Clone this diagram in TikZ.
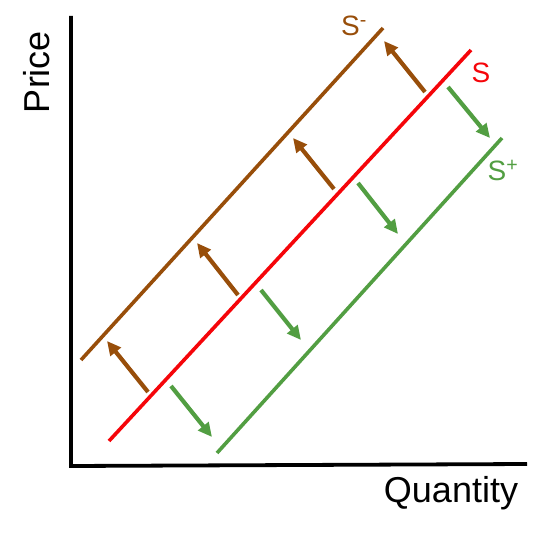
\documentclass[tikz,border=0pt]{standalone}
\usepackage{fontspec}
\setmainfont{Liberation Sans}
\usetikzlibrary{arrows.meta}
\definecolor{brownc}{RGB}{152,78,10}
\definecolor{redc}{RGB}{245,5,10}
\definecolor{greenc}{RGB}{82,158,66}
\tikzset{
  axisline/.style={line width=3.8pt, black},
  curveline/.style={line width=3.6pt},
  shiftarrow/.style={line width=4.2pt, -{Triangle[length=14pt,width=13pt]}},
  lbl/.style={inner sep=0pt, font=\fontsize{28}{30}\selectfont},
  axlbl/.style={inner sep=0pt, font=\fontsize{36}{40}\selectfont}
}
\begin{document}
\begin{tikzpicture}[x=1pt,y=-1pt]
\useasboundingbox (0,0) rectangle (546,537);
% axes
\coordinate (ytop) at (71,16);
\coordinate (orig) at (71,466);
\coordinate (xend) at (527,464);
\draw[axisline] (ytop) -- (orig) -- (xend);
\node[axlbl, rotate=90] (price) at (37,72) {Price};
\node[axlbl] (qty) at (451,493) {Quantity};
% supply curves
\coordinate (sa) at (109,441);
\coordinate (sb) at (471,50);
\coordinate (sma) at (81,360);
\coordinate (smb) at (383,28);
\coordinate (spa) at (217,453);
\coordinate (spb) at (502,138);
\draw[curveline, redc] (sa) -- (sb);
\draw[curveline, brownc] (sma) -- (smb);
\draw[curveline, greenc] (spa) -- (spb);
\node[lbl, text=brownc] (lsm) at (354,26) {S\textsuperscript{-}};
\node[lbl, text=redc] (ls) at (481,73) {S};
\node[lbl, text=greenc] (lsp) at (503,170) {S\textsuperscript{+}};
% brown arrows
\coordinate (b1s) at (148,392); \coordinate (b1e) at (107,341);
\coordinate (b2s) at (238,295); \coordinate (b2e) at (197,243);
\coordinate (b3s) at (334,189); \coordinate (b3e) at (293,138);
\coordinate (b4s) at (425,92);  \coordinate (b4e) at (384,41);
\foreach \i in {1,2,3,4} \draw[shiftarrow, brownc] (b\i s) -- (b\i e);
% green arrows
\coordinate (g1s) at (171,386); \coordinate (g1e) at (212,437);
\coordinate (g2s) at (261,290); \coordinate (g2e) at (301,340);
\coordinate (g3s) at (358,183); \coordinate (g3e) at (398,234);
\coordinate (g4s) at (448,87);  \coordinate (g4e) at (490,138);
\foreach \i in {1,2,3,4} \draw[shiftarrow, greenc] (g\i s) -- (g\i e);
\end{tikzpicture}
\end{document}
